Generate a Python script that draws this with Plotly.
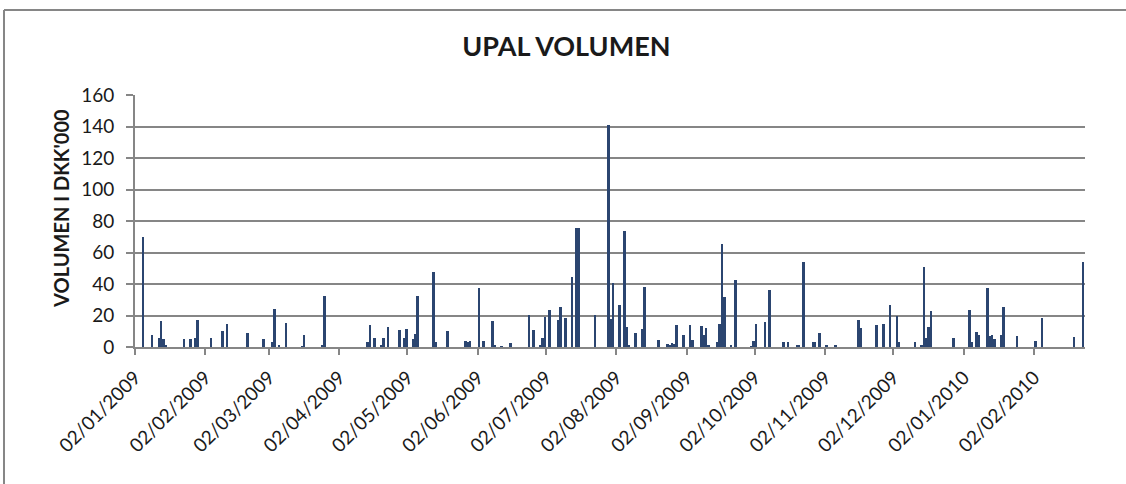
import plotly.graph_objects as go

# daily traded volume, DKK'000
dates = [
    "2009-01-05", "2009-01-09", "2009-01-12", "2009-01-13", "2009-01-14", "2009-01-15",
    "2009-01-23", "2009-01-26", "2009-01-28", "2009-01-29", "2009-02-04", "2009-02-09",
    "2009-02-11", "2009-02-20", "2009-02-27", "2009-03-03", "2009-03-04", "2009-03-06",
    "2009-03-09", "2009-03-16", "2009-03-17", "2009-03-25", "2009-03-26", "2009-04-14",
    "2009-04-15", "2009-04-17", "2009-04-20", "2009-04-21", "2009-04-23", "2009-04-28",
    "2009-04-30", "2009-05-01", "2009-05-04", "2009-05-05", "2009-05-06", "2009-05-13",
    "2009-05-14", "2009-05-19", "2009-05-27", "2009-05-28", "2009-05-29", "2009-06-02",
    "2009-06-04", "2009-06-08", "2009-06-09", "2009-06-12", "2009-06-16", "2009-06-24",
    "2009-06-26", "2009-06-29", "2009-06-30", "2009-07-01", "2009-07-03", "2009-07-07",
    "2009-07-08", "2009-07-10", "2009-07-13", "2009-07-15", "2009-07-16", "2009-07-23",
    "2009-07-29", "2009-07-30", "2009-07-31", "2009-08-03", "2009-08-05", "2009-08-06",
    "2009-08-07", "2009-08-10", "2009-08-13", "2009-08-14", "2009-08-20", "2009-08-24",
    "2009-08-25", "2009-08-26", "2009-08-27", "2009-08-28", "2009-08-31", "2009-09-03",
    "2009-09-04", "2009-09-08", "2009-09-09", "2009-09-10", "2009-09-11", "2009-09-15",
    "2009-09-16", "2009-09-17", "2009-09-18", "2009-09-21", "2009-09-23", "2009-09-30",
    "2009-10-01", "2009-10-02", "2009-10-06", "2009-10-08", "2009-10-14", "2009-10-16",
    "2009-10-20", "2009-10-21", "2009-10-23", "2009-10-27", "2009-10-28", "2009-10-30",
    "2009-11-02", "2009-11-06", "2009-11-16", "2009-11-17", "2009-11-24", "2009-11-27",
    "2009-11-30", "2009-12-03", "2009-12-04", "2009-12-11", "2009-12-14", "2009-12-15",
    "2009-12-16", "2009-12-17", "2009-12-18", "2009-12-28", "2010-01-04", "2010-01-05",
    "2010-01-07", "2010-01-08", "2010-01-12", "2010-01-13", "2010-01-14", "2010-01-15",
    "2010-01-18", "2010-01-19", "2010-01-25", "2010-02-02", "2010-02-05", "2010-02-19",
    "2010-02-23",
]
volumes = [
    70, 7.6, 6, 16.5, 5, 1,
    5, 5, 5.7, 17.3, 6, 10,
    14.4, 9, 5.3, 3, 24, 1,
    15.5, 0.5, 7.4, 1, 32.6, 3,
    13.8, 6, 0.8, 5.7, 12.5, 10.6,
    5.7, 11.6, 5, 8.5, 32.4, 47.8,
    3, 10.4, 4, 3, 4, 37.5,
    3.5, 16.5, 1, 0.5, 2.4, 20.3,
    10.8, 1, 5.5, 19.3, 23.5, 17,
    25.2, 18.4, 44.6, 75.3, 75.3, 20.3,
    140.7, 17.6, 40.8, 26.4, 73.9, 12.9,
    1, 8.7, 11.4, 37.9, 4.2, 2,
    1.5, 2.5, 2, 14, 7.4, 14,
    4.3, 13.3, 7.6, 12, 1, 3.4,
    14.4, 65.2, 32, 1, 42.8, 0.5,
    4, 14.4, 15.9, 36, 3.2, 3,
    1.5, 1, 53.8, 3, 3.3, 8.7,
    0.7, 1, 17, 11.8, 14, 14.4,
    26.4, 19.5, 3.3, 3.3, 1.5, 50.6,
    5.5, 12.5, 22.7, 5.9, 23.3, 3,
    9.5, 7.6, 37.3, 7.2, 7.6, 5,
    7.6, 25.2, 7.2, 4, 18.2, 6.6,
    53.8,
]
tick_dates = [
    "2009-01-02", "2009-02-02", "2009-03-02", "2009-04-02", "2009-05-02",
    "2009-06-02", "2009-07-02", "2009-08-02", "2009-09-02", "2009-10-02",
    "2009-11-02", "2009-12-02", "2010-01-02", "2010-02-02",
]

FONT = "Lato"
GREY = "#868686"

# centre each bar in its day slot
x_mid = [d + " 12:00" for d in dates]

fig = go.Figure(
    go.Bar(
        x=x_mid,
        y=volumes,
        width=86400000 * 1.15,
        marker=dict(color="#2B4570", line=dict(width=0)),
        showlegend=False,
    )
)

fig.update_layout(
    width=1126,
    height=484,
    margin=dict(l=135, r=41, t=95, b=137),
    paper_bgcolor="white",
    plot_bgcolor="white",
    font=dict(family=FONT, size=19, color="#1a1a1a"),
    title=dict(
        text="<b>UPAL VOLUMEN</b>",
        font=dict(family=FONT, size=27, color="#1a1a1a"),
        x=0.503, xanchor="center",
        y=0.903, yanchor="middle",
    ),
    bargap=0,
)

fig.update_xaxes(
    type="date",
    range=["2009-01-02", "2010-02-24 09:00"],
    tickvals=tick_dates,
    tickformat="%d/%m/%Y",
    tickangle=-45,
    ticks="outside",
    ticklen=6,
    tickwidth=1.5,
    tickcolor=GREY,
    ticklabelstandoff=4,
    showline=True,
    linecolor=GREY,
    linewidth=2,
    showgrid=False,
    tickfont=dict(family=FONT, size=19),
)

fig.update_yaxes(
    range=[0, 160],
    dtick=20,
    ticks="outside",
    ticklen=7,
    tickwidth=1.5,
    tickcolor=GREY,
    ticklabelstandoff=8,
    showline=True,
    linecolor=GREY,
    linewidth=2,
    showgrid=True,
    gridcolor=GREY,
    gridwidth=1.5,
    zeroline=False,
    tickfont=dict(family=FONT, size=19),
)

fig.add_annotation(
    text="<b>VOLUMEN I DKK'000</b>",
    textangle=-90,
    xref="paper", yref="paper",
    x=-0.0926, y=0.548,
    showarrow=False,
    font=dict(family=FONT, size=20, color="#1a1a1a"),
)

# outer chart border (left and top visible in the crop)
fig.add_shape(type="line", xref="paper", yref="paper",
              x0=-0.1379, y0=1.3373, x1=1.06, y1=1.3373,
              line=dict(color=GREY, width=2))
fig.add_shape(type="line", xref="paper", yref="paper",
              x0=-0.1379, y0=1.3373, x1=-0.1379, y1=-0.6,
              line=dict(color=GREY, width=2))

# drop the page's default body margin so the figure sits at the window corner
fig.write_html(
    "out.html",
    config={"displayModeBar": False},
    post_script="document.body.style.margin='0';document.body.style.overflow='hidden';",
)
